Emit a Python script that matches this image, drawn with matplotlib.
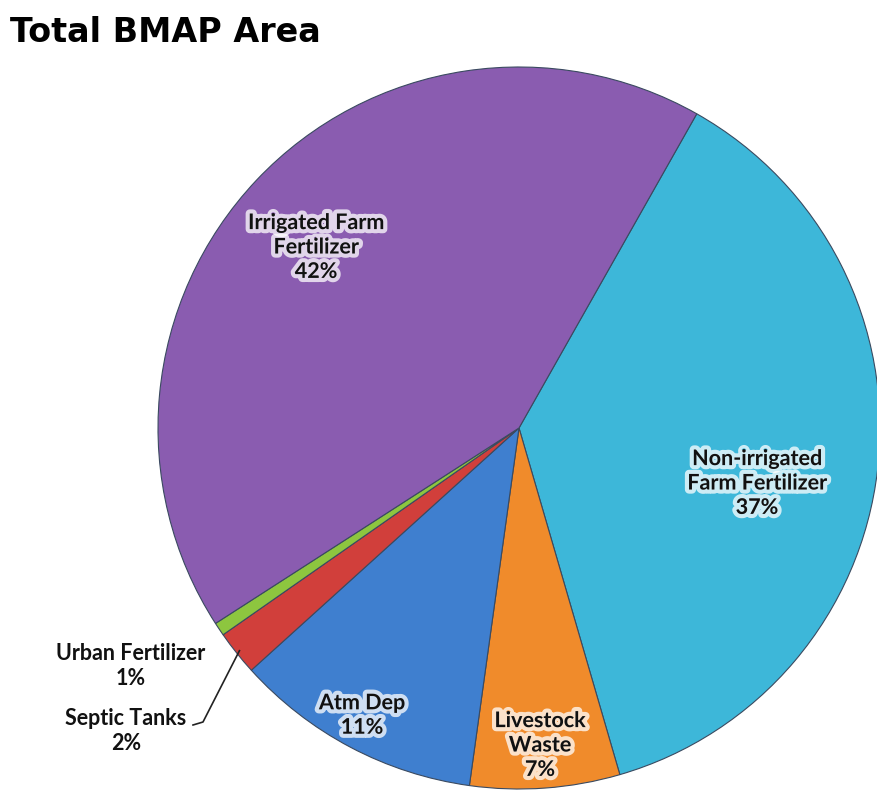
import matplotlib
matplotlib.use("Agg")
import matplotlib.pyplot as plt
import matplotlib.patheffects as pe
import numpy as np

categories = ["Non-irrigated\nFarm Fertilizer", "Livestock\nWaste", "Atm Dep",
              "Septic Tanks", "Urban Fertilizer", "Irrigated Farm\nFertilizer"]
values = [37.3, 6.7, 11.1, 2.0, 0.6, 42.3]
pct_labels = ["37%", "7%", "11%", "2%", "1%", "42%"]
colors = ["#3DB7D9", "#F08B2B", "#3F7FCF", "#D13F3B", "#8DC63F", "#8A5CB0"]

W, H = 877, 793
fig = plt.figure(figsize=(W / 100, H / 100), dpi=100)
cx, cy, R = 519, 428, 361
ax = fig.add_axes([(cx - R) / W, (H - cy - R) / H, 2 * R / W, 2 * R / H])
ax.set_xlim(-1, 1)
ax.set_ylim(-1, 1)
ax.set_aspect("equal")
ax.axis("off")

wedges, _ = ax.pie(values, colors=colors, startangle=60.5, counterclock=False,
                   radius=1.0, center=(0, 0),
                   wedgeprops=dict(edgecolor="#3a4a60", linewidth=0.8))
ax.set_xlim(-1, 1)
ax.set_ylim(-1, 1)

FONT = ["Lato", "DejaVu Sans"]
FS = 15.5
LS = 1.2
glow = [pe.withStroke(linewidth=6, foreground="white", alpha=0.75)]

def to_data(px, py):
    return (px - cx) / R, (cy - py) / R

inside = {0: (757, 483), 1: (540, 745), 2: (362, 715), 5: (316, 247)}
for i, (px, py) in inside.items():
    x, y = to_data(px, py)
    ax.text(x, y, categories[i] + "\n" + pct_labels[i], ha="center", va="center",
            fontsize=FS, fontweight="bold", family=FONT, color="#111111",
            linespacing=LS, path_effects=glow, clip_on=False)

# outside labels
x, y = to_data(131, 666)
ax.text(x, y, categories[4] + "\n" + pct_labels[4], ha="center", va="center",
        fontsize=FS, fontweight="bold", family=FONT, color="#111111",
        linespacing=LS, clip_on=False)
x, y = to_data(126, 731)
ax.text(x, y, categories[3] + "\n" + pct_labels[3], ha="center", va="center",
        fontsize=FS, fontweight="bold", family=FONT, color="#111111",
        linespacing=LS, clip_on=False)

w = wedges[3]
mid = np.deg2rad((w.theta1 + w.theta2) / 2)
tip = (np.cos(mid) * 0.99, np.sin(mid) * 0.99)
p1 = to_data(193, 725)
p2 = to_data(203, 722)
ax.plot([p1[0], p2[0], tip[0]], [p1[1], p2[1], tip[1]], color="#222222",
        lw=1.2, clip_on=False)

fig.text(10 / W, 1 - 32 / H, "Total BMAP Area", ha="left", va="center",
         fontsize=24, fontweight="bold", family=["DejaVu Sans"], color="black")

fig.savefig("out.png", dpi=100, facecolor="white")
